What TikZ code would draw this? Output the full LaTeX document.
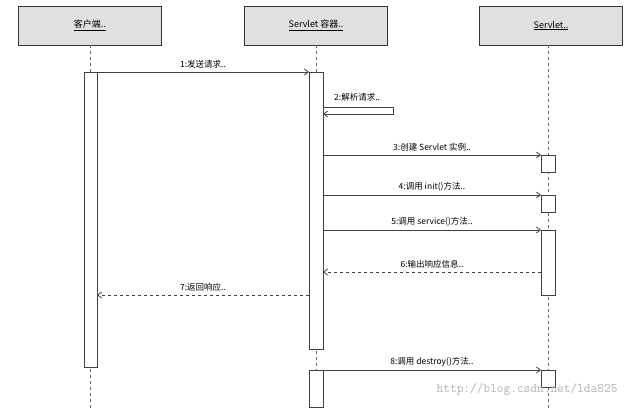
\documentclass[tikz,border=0pt]{standalone}
\usepackage{fontspec}
\newfontfamily\cjk{Noto Sans CJK SC}
\usetikzlibrary{positioning,arrows.meta}
\tikzset{
    headbox/.style={draw=black!80, thick, fill=black!12, minimum width=143pt, minimum height=39pt, inner sep=0pt, font=\cjk\fontsize{9}{10}\selectfont},
    lifeline/.style={draw=black!60, dashed, thick},
    actbar/.style={draw=black!75, fill=white, thick},
    msg/.style={draw=black!75, thick, -{Straight Barb[length=4pt,width=6pt]}},
    retmsg/.style={msg, dashed},
    msglabel/.style={font=\cjk\fontsize{8.5}{10}\selectfont, inner sep=1pt}
}
\begin{document}
\begin{tikzpicture}[x=1pt, y=-1pt]
    \useasboundingbox (0,0) rectangle (629,410);
    % header boxes
    \node[headbox] (client) at (90,25.5) {\underline{客户端..}};
    \node[headbox] (container) at (316,25.5) {\underline{Servlet 容器..}};
    \node[headbox] (servlet) at (551,25.5) {\underline{Servlet..}};
    % lifelines
    \coordinate (clientend) at (90,410);
    \coordinate (containerend) at (316,410);
    \coordinate (servletend) at (548,410);
    \draw[lifeline] (90,45) -- (clientend);
    \draw[lifeline] (316,45) -- (containerend);
    \draw[lifeline] (548,45) -- (servletend);
    % activation bars
    \draw[actbar] (84,72) rectangle (97,367);
    \draw[actbar] (309,72) rectangle (323,349);
    \draw[actbar] (309,370) rectangle (323,407);
    \draw[actbar] (541,155) rectangle (555,172);
    \draw[actbar] (541,195) rectangle (555,212);
    \draw[actbar] (541,230) rectangle (555,295);
    \draw[actbar] (541,370) rectangle (555,387);
    % messages
    \coordinate (m1a) at (97,72);   \coordinate (m1b) at (309,72);
    \draw[msg] (m1a) -- node[msglabel, above=2pt] {1:发送请求..} (m1b);
    \coordinate (m2a) at (323,107); \coordinate (m2b) at (393,107);
    \coordinate (m2c) at (393,114); \coordinate (m2d) at (323,114);
    \draw[msg] (m2a) -- (m2b) -- (m2c) -- (m2d);
    \node[msglabel, anchor=west] (l2) at (333,97) {2:解析请求..};
    \coordinate (m3a) at (323,155); \coordinate (m3b) at (541,155);
    \draw[msg] (m3a) -- node[msglabel, above=2pt] {3:创建 Servlet 实例..} (m3b);
    \coordinate (m4a) at (323,195); \coordinate (m4b) at (541,195);
    \draw[msg] (m4a) -- node[msglabel, above=2pt] {4:调用 init()方法..} (m4b);
    \coordinate (m5a) at (323,230); \coordinate (m5b) at (541,230);
    \draw[msg] (m5a) -- node[msglabel, above=2pt] {5:调用 service()方法..} (m5b);
    \coordinate (m6a) at (541,272); \coordinate (m6b) at (323,272);
    \draw[retmsg] (m6a) -- node[msglabel, above=2pt] {6:输出响应信息..} (m6b);
    \coordinate (m7a) at (309,295); \coordinate (m7b) at (97,295);
    \draw[retmsg] (m7a) -- node[msglabel, above=2pt] {7:返回响应..} (m7b);
    \coordinate (m8a) at (323,370); \coordinate (m8b) at (541,370);
    \draw[msg] (m8a) -- node[msglabel, above=2pt] {8:调用 destroy()方法..} (m8b);
    % watermark
    \node[font=\fontsize{13}{14}\selectfont\ttfamily, text=black!30, anchor=east] (mark) at (621,389) {http://blog.csdn.net/lda825};
\end{tikzpicture}
\end{document}
